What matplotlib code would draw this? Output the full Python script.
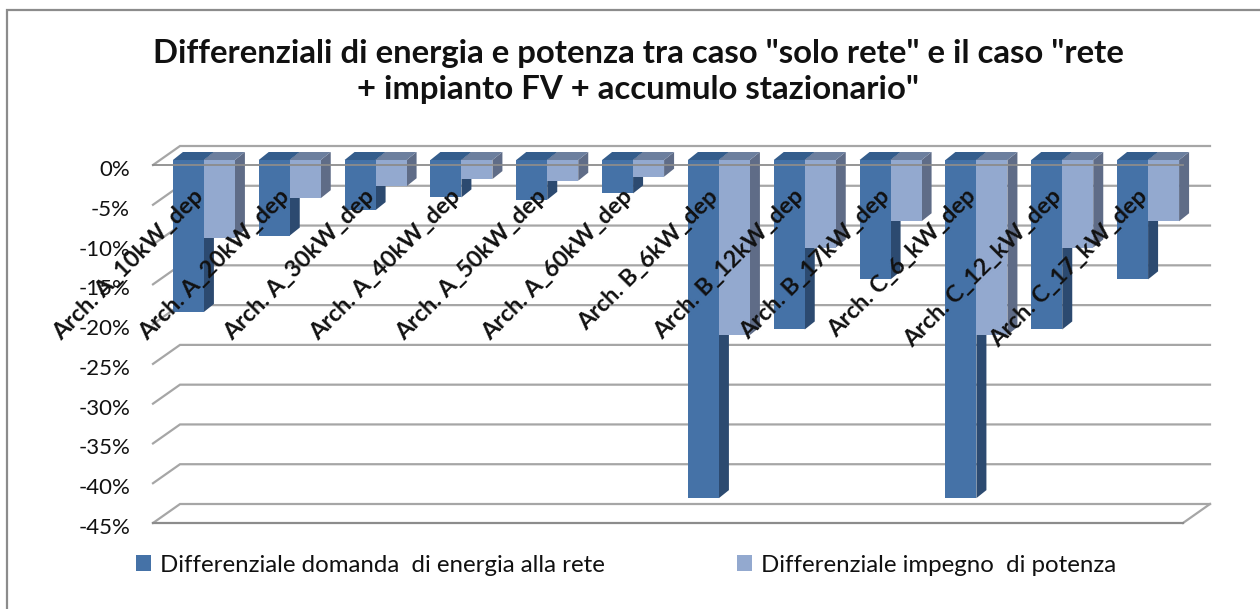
import matplotlib

matplotlib.use("Agg")
import matplotlib.pyplot as plt
from matplotlib.patches import Rectangle
from matplotlib.transforms import ScaledTranslation

categories = [
    "Arch. A_10kW_dep",
    "Arch. A_20kW_dep",
    "Arch. A_30kW_dep",
    "Arch. A_40kW_dep",
    "Arch. A_50kW_dep",
    "Arch. A_60kW_dep",
    "Arch. B_6kW_dep",
    "Arch. B_12kW_dep",
    "Arch. B_17kW_dep",
    "Arch. C_6_kW_dep",
    "Arch. C_12_kW_dep",
    "Arch. C_17_kW_dep",
]
energia = [-19.1, -9.5, -6.3, -4.7, -5.0, -4.2, -42.5, -21.3, -15.0, -42.5, -21.3, -15.0]
potenza = [-9.8, -4.8, -3.3, -2.4, -2.6, -2.1, -22.0, -11.0, -7.7, -22.0, -11.0, -7.7]
y_ticks = [0, -5, -10, -15, -20, -25, -30, -35, -40, -45]
series_names = ["Differenziale domanda  di energia alla rete", "Differenziale impegno  di potenza"]
title = 'Differenziali di energia e potenza tra caso "solo rete" e il caso "rete\n+ impianto FV + accumulo stazionario"'

plt.rcParams["font.family"] = ["Lato", "DejaVu Sans"]

W, H = 1260, 609
fig = plt.figure(figsize=(W / 100, H / 100), dpi=100)
ax = fig.add_axes([153 / W, 1 - 523 / H, 1030 / W, 358 / H])
ax.set_xlim(-0.5, 11.5)
ax.set_ylim(-45, 0)
ax.patch.set_visible(False)
for s in ax.spines.values():
    s.set_visible(False)

# pixel sizes of the fake 3d box, turned into data units
px_x = 12 / 1030
px_y = 45 / 358
wall_dx, wall_dy = 27 * px_x, 19 * px_y
bar_dx, bar_dy = 10 * px_x, 8 * px_y
shift_x, shift_y = 8 * px_x, 5 * px_y
bar_w = 31 * px_x

grid_col = "#a6a6a6"

# walls
for t in y_ticks:
    ax.plot([-0.5, -0.5 + wall_dx, 11.5 + wall_dx], [t, t + wall_dy, t + wall_dy],
            color=grid_col, lw=1.6, clip_on=False, zorder=1, solid_joinstyle="miter")
ax.plot([11.5, 11.5 + wall_dx], [-45, -45 + wall_dy], color=grid_col, lw=1.6, clip_on=False, zorder=1)


def draw_bars(xs, values, front, top, side, z):
    bars = ax.bar(xs, values, bar_w, bottom=shift_y, color=front, clip_on=False, zorder=z + 0.2)
    for x, v in zip(xs, values):
        xl, xr = x - bar_w / 2, x + bar_w / 2
        ax.fill([xr, xr + bar_dx, xr + bar_dx, xr],
                [shift_y, shift_y + bar_dy, shift_y + bar_dy + v, shift_y + v],
                color=side, lw=0, clip_on=False, zorder=z)
        ax.fill([xl, xl + bar_dx, xr + bar_dx, xr],
                [shift_y, shift_y + bar_dy, shift_y + bar_dy, shift_y],
                color=top, lw=0, clip_on=False, zorder=z + 0.1)
    return bars


idx = list(range(len(categories)))
b1 = draw_bars([i + shift_x - bar_w / 2 for i in idx], energia, "#4572a7", "#345d8c", "#2c4a70", 2)
b2 = draw_bars([i + shift_x + bar_w / 2 for i in idx], potenza, "#93a9cf", "#6c7f9e", "#5f6c87", 3)

# front edges go over the bars
ax.plot([-0.5, 11.5], [0, 0], color="#8c8c8c", lw=1.3, clip_on=False, zorder=5)
ax.plot([-0.5, 11.5], [-45, -45], color="#8c8c8c", lw=1.6, clip_on=False, zorder=5)

ax.set_yticks(y_ticks)
ax.set_yticklabels([f"{t}%" for t in y_ticks])
ax.tick_params(axis="y", length=0, pad=16.5, labelsize=16, labelcolor="#111111")
ax.set_xticks([])
lift = ScaledTranslation(0, -3 / 100, fig.dpi_scale_trans)
for lab in ax.get_yticklabels():
    lab.set_transform(lab.get_transform() + lift)

for i, name in zip(idx, categories):
    ax.annotate(name, (i, 0), xytext=(4, -28), textcoords="offset pixels", rotation=45,
                rotation_mode="anchor", ha="right", va="center", fontsize=16.9, fontweight="bold",
                color="#111111", annotation_clip=False, zorder=6)

fig.text(638 / W, 1 - 71.5 / H, title, ha="center", va="center", fontsize=23.7, fontweight="bold",
         color="#111111", linespacing=1.27)

fig.legend([b1, b2], series_names, loc="center left", bbox_to_anchor=(114 / W, 1 - 565 / H), ncols=2,
           frameon=False, fontsize=17.3, handlelength=0.65, handleheight=0.65, handletextpad=0.35,
           columnspacing=5.5, labelcolor="#111111")

fig.add_artist(Rectangle((7 / W, -0.02), 1.05, 1 - 10 / H + 0.02, transform=fig.transFigure,
                         fill=False, edgecolor="#8c8c8c", lw=1.6, clip_on=False))

fig.savefig("out.png", dpi=100)
